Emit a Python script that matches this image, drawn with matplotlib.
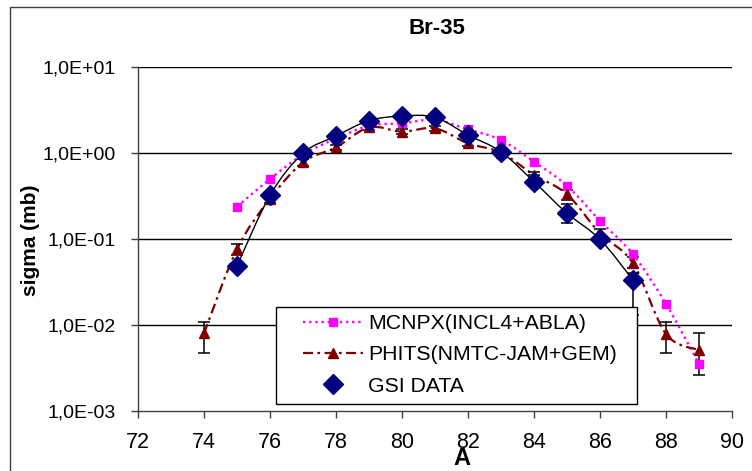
import numpy as np
import matplotlib
matplotlib.use("Agg")
import matplotlib.pyplot as plt
from matplotlib.path import Path
from matplotlib.patches import PathPatch, Rectangle
from matplotlib.lines import Line2D

plt.rcParams["font.family"] = ["Liberation Sans", "DejaVu Sans"]

# ── Data ────────────────────────────────────────────────────
A_MCNPX = [75, 76, 77, 78, 79, 80, 81, 82, 83, 84, 85, 86, 87, 88, 89]
MCNPX = [0.235, 0.493, 0.95, 1.45, 2.05, 2.19, 2.4, 1.86, 1.40, 0.783,
         0.412, 0.161, 0.0657, 0.0174, 0.00349]

A_PHITS = [74, 75, 76, 77, 78, 79, 80, 81, 82, 83, 84, 85, 86, 87, 88, 89]
PHITS = [0.0079, 0.0757, 0.29, 0.77, 1.15, 1.96, 1.75, 1.91, 1.28, 1.0,
         0.55, 0.327, 0.115, 0.0516, 0.0078, 0.00507]
PHITS_LO = [0.00465, 0.0644, 0.26, 0.70, 1.07, 1.85, 1.65, 1.80, 1.20, 0.93,
            0.50, 0.281, 0.100, 0.045, 0.00465, 0.0026]
PHITS_HI = [0.0108, 0.0858, 0.32, 0.84, 1.24, 2.08, 1.86, 2.03, 1.37, 1.08,
            0.60, 0.367, 0.130, 0.0607, 0.0108, 0.0079]

A_GSI = [75, 76, 77, 78, 79, 80, 81, 82, 83, 84, 85, 86, 87]
GSI = [0.048, 0.318, 0.98, 1.56, 2.35, 2.66, 2.57, 1.60, 1.02, 0.458,
       0.197, 0.098, 0.033]
GSI_LO = [0.044, 0.29, 0.90, 1.45, 2.2, 2.5, 2.4, 1.5, 0.95, 0.41,
          0.153, 0.088, 0.0129]
GSI_HI = [0.052, 0.35, 1.06, 1.68, 2.5, 2.8, 2.7, 1.7, 1.09, 0.55,
          0.25, 0.108, 0.04]

YTICKS = [1e-3, 1e-2, 1e-1, 1e0, 1e1]
YTICK_LABELS = ["1,0E-03", "1,0E-02", "1,0E-01", "1,0E+00", "1,0E+01"]
XTICKS = list(range(72, 91, 2))

LABELS = ["MCNPX(INCL4+ABLA)", "PHITS(NMTC-JAM+GEM)", "GSI DATA"]


def smooth_path(xs, ys):
    """Excel-like smoothed line: cubic Bezier segments, control points
    taken in (x, log y) space so the curve is built in screen space."""
    x = np.asarray(xs, float)
    ly = np.log10(np.asarray(ys, float))
    n = len(x)
    verts = [(x[0], ly[0])]
    codes = [Path.MOVETO]
    for i in range(n - 1):
        p0 = (x[max(i - 1, 0)], ly[max(i - 1, 0)])
        p1 = (x[i], ly[i])
        p2 = (x[i + 1], ly[i + 1])
        p3 = (x[min(i + 2, n - 1)], ly[min(i + 2, n - 1)])
        c1 = (p1[0] + (p2[0] - p0[0]) / 6, p1[1] + (p2[1] - p0[1]) / 6)
        c2 = (p2[0] - (p3[0] - p1[0]) / 6, p2[1] - (p3[1] - p1[1]) / 6)
        verts += [c1, c2, p2]
        codes += [Path.CURVE4] * 3
    verts = [(vx, 10 ** vy) for vx, vy in verts]
    return Path(verts, codes)


W, H = 752, 471
fig = plt.figure(figsize=(W / 100, H / 100), dpi=100)
ax = fig.add_axes([138 / W, 1 - 410.7 / H, (732 - 138) / W, (410.7 - 66.5) / H])

ax.set_yscale("log")
ax.set_xlim(72, 90)
ax.set_ylim(1e-3, 1e1)

MAG = "#ff00ff"
RED = "#800000"
NAVY = "#000080"

# smoothed lines
ax.add_patch(PathPatch(smooth_path(A_MCNPX, MCNPX), fill=False, edgecolor=MAG,
                       lw=1.7, linestyle=(0, (1.0, 1.6)), zorder=3))
ax.add_patch(PathPatch(smooth_path(A_PHITS, PHITS), fill=False, edgecolor=RED,
                       lw=1.6, linestyle=(0, (4.5, 2.0, 1.2, 2.0)), zorder=3))
ax.add_patch(PathPatch(smooth_path(A_GSI, GSI), fill=False, edgecolor="black",
                       lw=1.0, zorder=3))

# error bars
ax.errorbar(A_PHITS, PHITS,
            yerr=[np.subtract(PHITS, PHITS_LO), np.subtract(PHITS_HI, PHITS)],
            fmt="none", ecolor="black", elinewidth=1.1, capsize=4.5,
            capthick=1.1, zorder=4)
ax.errorbar(A_GSI, GSI,
            yerr=[np.subtract(GSI, GSI_LO), np.subtract(GSI_HI, GSI)],
            fmt="none", ecolor="black", elinewidth=1.1, capsize=4.5,
            capthick=1.1, zorder=4)

# markers
ax.plot(A_MCNPX, MCNPX, ls="none", marker="s", ms=5.3, color=MAG, mec=MAG, zorder=5)
ax.plot(A_PHITS, PHITS, ls="none", marker="^", ms=7.5, color=RED, mec=RED, zorder=5)
ax.plot(A_GSI, GSI, ls="none", marker="D", ms=9.7, color=NAVY, mec=NAVY, zorder=6)

# axes styling
ax.set_yticks(YTICKS)
ax.set_yticklabels(YTICK_LABELS)
ax.yaxis.set_minor_locator(matplotlib.ticker.NullLocator())
ax.set_xticks(XTICKS)
ax.tick_params(axis="y", direction="out", length=5, width=1, pad=11,
               labelsize=14, color="#404040")
ax.tick_params(axis="x", direction="out", length=5, width=1, pad=10,
               labelsize=15.5, color="#404040")
for side in ["top", "right"]:
    ax.spines[side].set_visible(False)
for side in ["left", "bottom"]:
    ax.spines[side].set_color("#404040")
    ax.spines[side].set_linewidth(1.0)
for v in YTICKS[1:]:
    ax.axhline(v, color="black", lw=1.0, zorder=1)

# legend with a hand-placed box
ax.add_patch(Rectangle((276 / W, 1 - 404 / H), (637 - 276) / W, (404 - 307) / H,
                       transform=fig.transFigure, facecolor="white",
                       edgecolor="black", lw=1.0, zorder=8))
handles = [
    Line2D([], [], color=MAG, lw=1.7, ls=(0, (1.0, 1.6)), marker="s", ms=5.3, mec=MAG),
    Line2D([], [], color=RED, lw=1.6, ls=(0, (4.5, 2.0, 1.2, 2.0)), marker="^", ms=7.5, mec=RED),
    Line2D([], [], color=NAVY, ls="none", marker="D", ms=9.7, mec=NAVY),
]
leg = ax.legend(handles, LABELS, loc="upper left",
                bbox_to_anchor=(303 / W, 1 - 314 / H),
                bbox_transform=fig.transFigure, frameon=False,
                fontsize=15.3, borderpad=0, borderaxespad=0,
                handlelength=2.8, handletextpad=0.25, labelspacing=0.58)
leg.set_zorder(9)

# titles
fig.text(437 / W, 1 - 29 / H, "Br-35", fontsize=16, fontweight="bold",
         ha="center", va="center")
fig.text(30 / W, 1 - 240 / H, "sigma (mb)", fontsize=15, fontweight="bold",
         ha="center", va="center", rotation=90)
fig.text(462 / W, 1 - 465 / H, "A", fontsize=17, fontweight="bold",
         ha="center", va="baseline")

# outer chart border (runs off the right and bottom edges)
fig.patches.append(Rectangle((10 / W, -0.05), 1.2, 1 - 7 / H + 0.05,
                             transform=fig.transFigure, fill=False,
                             edgecolor="#404040", lw=1.0))

fig.savefig("out.png", dpi=100)
